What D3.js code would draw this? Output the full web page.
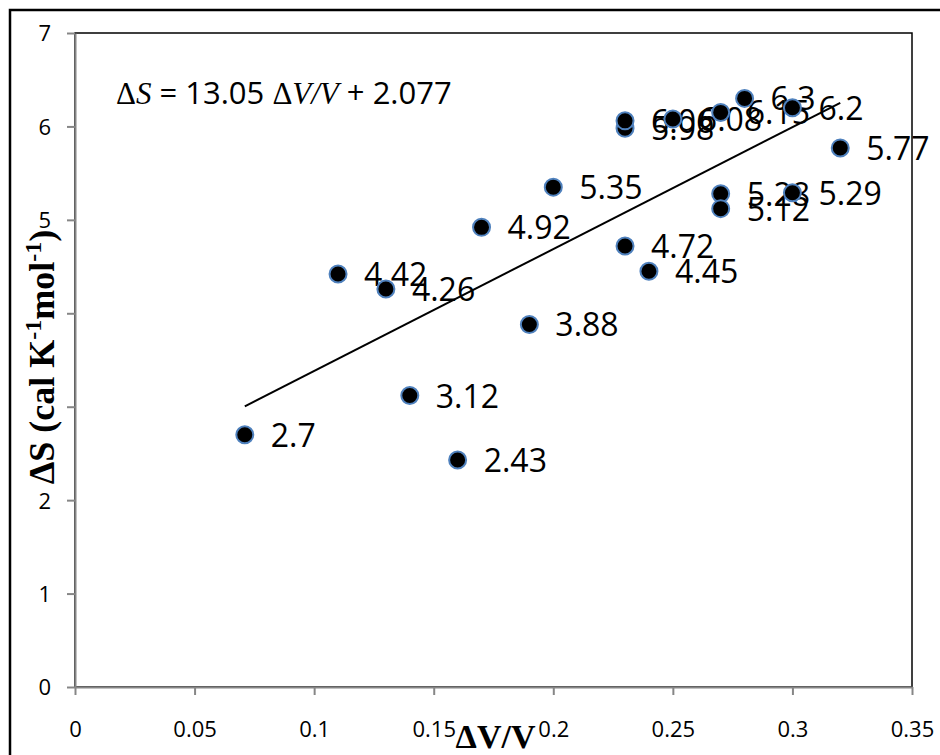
<!DOCTYPE html>
<html>
<head>
<meta charset="utf-8">
<script src="https://cdn.jsdelivr.net/npm/d3@7"></script>
<style>
  body { margin: 0; background: #fff; }
  svg { display: block; }
</style>
</head>
<body>
<svg id="chart" width="940" height="755"></svg>
<script>
// --- Data ---

const dvv = [0.071, 0.11, 0.13, 0.14, 0.16, 0.17, 0.19, 0.2, 0.23, 0.23,
             0.23, 0.24, 0.25, 0.27, 0.27, 0.27, 0.28, 0.3, 0.3, 0.32];
const dS = [2.7, 4.42, 4.26, 3.12, 2.43, 4.92, 3.88, 5.35, 5.98, 6.06,
            4.72, 4.45, 6.08, 6.15, 5.28, 5.12, 6.3, 6.2, 5.29, 5.77];

const xTicks = [0, 0.05, 0.1, 0.15, 0.2, 0.25, 0.3, 0.35];
const yTicks = [0, 1, 2, 3, 4, 5, 6, 7];

const slope = 13.05;
const intercept = 2.077;
const fitRange = [0.071, 0.32];

// --- Layout ---

const plot = { left: 75, top: 33, right: 912, bottom: 687 };
const AXIS_GRAY = "#868686";
const MARKER_EDGE = "#4f81bd";
const SANS = "'Open Sans', sans-serif";
const SERIF = "'Liberation Serif', 'Times New Roman', serif";

const svg = d3.select("#chart");

const x = d3.scaleLinear().domain([0, 0.35]).range([plot.left, plot.right]);
const y = d3.scaleLinear().domain([0, 7]).range([plot.bottom, plot.top]);

// outer chart border
svg.append("rect")
  .attr("x", 10).attr("y", 10)
  .attr("width", 960).attr("height", 780)
  .attr("fill", "#fff")
  .attr("stroke", "#000")
  .attr("stroke-width", 2.5);

// plot area border
svg.append("rect")
  .attr("x", plot.left).attr("y", plot.top)
  .attr("width", plot.right - plot.left)
  .attr("height", plot.bottom - plot.top)
  .attr("fill", "none")
  .attr("stroke", "#000")
  .attr("stroke-width", 1.5);

// --- Axes ---

const xAxis = svg.append("g")
  .attr("transform", `translate(0,${plot.bottom})`)
  .call(d3.axisBottom(x).tickValues(xTicks).tickSize(8).tickSizeOuter(0)
    .tickFormat(d => d3.format("~g")(d)));

const yAxis = svg.append("g")
  .attr("transform", `translate(${plot.left},0)`)
  .call(d3.axisLeft(y).tickValues(yTicks).tickSize(8).tickSizeOuter(0)
    .tickFormat(d3.format("d")));

for (const ax of [xAxis, yAxis]) {
  ax.select(".domain").attr("stroke", AXIS_GRAY).attr("stroke-width", 2);
  ax.selectAll(".tick line").attr("stroke", AXIS_GRAY).attr("stroke-width", 2);
  ax.selectAll(".tick text")
    .attr("fill", "#000")
    .style("font-family", SANS)
    .style("font-size", "22px");
}
xAxis.selectAll(".tick text").attr("y", 0).attr("dy", 0).attr("transform", "translate(0,50)");
yAxis.selectAll(".tick text").attr("x", -24).attr("dy", "0.36em");

// --- Trend line ---

svg.append("line")
  .attr("x1", x(fitRange[0])).attr("y1", y(slope * fitRange[0] + intercept))
  .attr("x2", x(fitRange[1])).attr("y2", y(slope * fitRange[1] + intercept))
  .attr("stroke", "#000")
  .attr("stroke-width", 2);

// --- Points + labels ---

const pts = dvv.map((v, i) => ({ x: v, y: dS[i] }));

svg.append("g")
  .selectAll("text")
  .data(pts)
  .join("text")
  .attr("x", d => x(d.x) + 26)
  .attr("y", d => y(d.y) + 12)
  .style("font-family", SANS)
  .style("font-size", "32px")
  .text(d => d.y);

svg.append("g")
  .selectAll("circle")
  .data(pts)
  .join("circle")
  .attr("cx", d => x(d.x))
  .attr("cy", d => y(d.y))
  .attr("r", 8.5)
  .attr("fill", "#000")
  .attr("stroke", MARKER_EDGE)
  .attr("stroke-width", 2);

// --- Equation ---

const eq = svg.append("text")
  .attr("x", 116).attr("y", 104)
  .style("font-size", "31px");
eq.append("tspan").style("font-family", SERIF).text("Δ");
eq.append("tspan").style("font-family", SERIF).style("font-style", "italic").text("S");
eq.append("tspan").style("font-family", SANS).text(` = ${slope} `);
eq.append("tspan").style("font-family", SERIF).text("Δ");
eq.append("tspan").style("font-family", SERIF).style("font-style", "italic").text("V/V");
eq.append("tspan").style("font-family", SANS).text(` + ${intercept}`);

// --- Axis titles (white box like Excel) ---

function titleBox(textSel) {
  const b = textSel.node().getBBox();
  svg.insert("rect", () => textSel.node())
    .attr("x", b.x).attr("y", b.y)
    .attr("width", b.width).attr("height", b.height)
    .attr("transform", textSel.attr("transform"))
    .attr("fill", "#fff");
}

const xTitle = svg.append("text")
  .attr("x", (plot.left + plot.right) / 2 + 2)
  .attr("y", 748)
  .attr("text-anchor", "middle")
  .style("font-family", SERIF)
  .style("font-weight", "bold")
  .style("font-size", "34px")
  .text("ΔV/V");

const yTitle = svg.append("text")
  .attr("transform", `translate(54,${(plot.top + plot.bottom) / 2 - 3}) rotate(-90)`)
  .attr("text-anchor", "middle")
  .style("font-family", SERIF)
  .style("font-weight", "bold")
  .style("font-size", "36px");
yTitle.append("tspan").text("ΔS (cal K");
yTitle.append("tspan").attr("dy", -13).style("font-size", "24px").text("-1");
yTitle.append("tspan").attr("dy", 13).text("mol");
yTitle.append("tspan").attr("dy", -13).style("font-size", "24px").text("-1");
yTitle.append("tspan").attr("dy", 13).text(")");
titleBox(yTitle);
</script>
</body>
</html>
